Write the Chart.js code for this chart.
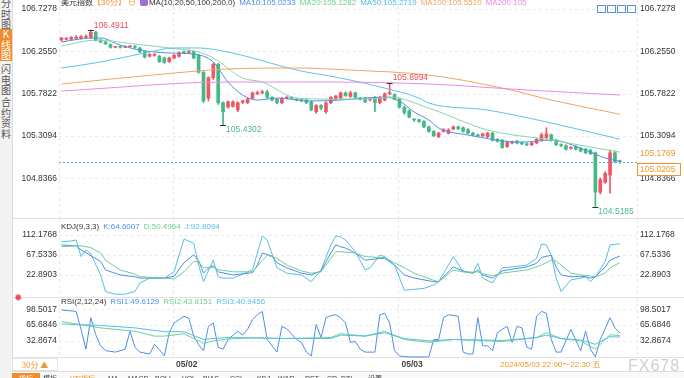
<!DOCTYPE html>
<html>
<head>
<meta charset="utf-8">
<script src="https://cdn.jsdelivr.net/npm/chart.js@4.4.1/dist/chart.umd.min.js"></script>
<style>
  html, body { margin: 0; padding: 0; width: 684px; height: 378px; overflow: hidden; background: #fff;
    font-family: "Liberation Sans", Arial, "Noto Sans CJK SC", sans-serif; }
  .wrap { position: relative; width: 684px; height: 378px; }
  canvas { position: absolute; left: 0; }
  #mainC { top: 0; } #kdjC { top: 219px; } #rsiC { top: 298px; }
  .side { position: absolute; left: 0; top: 0; width: 12px; height: 378px; background: #f3f3f3; border-right: 1px solid #dcdcdc; }
  .tab { position: absolute; left: 0; width: 12px; font: 10px/10.5px "Noto Sans CJK SC", sans-serif; text-align: center; color: #555; }
  .tab.on { background: #f28c28; color: #fff; }
  .ttl { position: absolute; left: 61px; font-size: 8px; white-space: nowrap; color: #333; line-height: 10px; }
  .ttl span { margin-right: 4px; }
  .ico { display: inline-block; width: 9px; height: 8px; border: 1px solid #5a8fe0; margin-right: 1px; box-sizing: border-box; }
  .foot { position: absolute; top: 371px; left: 12px; width: 672px; height: 10px; background: #fafafa; border-top: 1px solid #ddd; }
  .foot b { position: absolute; top: 1px; font: 7px/11px "Liberation Sans", "Noto Sans CJK SC", sans-serif; color: #444; font-weight: normal; }
</style>
</head>
<body>
<div class="wrap">
  <canvas id="mainC" width="684" height="219"></canvas>
  <canvas id="kdjC" width="684" height="79"></canvas>
  <canvas id="rsiC" width="684" height="74"></canvas>

  <div class="side"></div>
  <div class="tab" style="top:-2px">分<br>时<br>图</div>
  <div class="tab on" style="top:29px;height:32px;padding-top:0">K<br>线<br>图</div>
  <div class="tab" style="top:64px">闪<br>电<br>图</div>
  <div class="tab" style="top:97px">合<br>约<br>资<br>料</div>

  <div class="ttl" style="top:-2px">
    <span style="margin-right:0">美元指数</span><span style="color:#f0962a;margin-right:2px">【30分】</span><span style="color:#f0962a">⊖</span><span style="display:inline-block;width:8px;height:8px;background:#9d72d8;border-radius:2px;margin-right:1px;vertical-align:-1px"></span><span>MA(10,20,50,100,200,0)</span><span style="color:#4d8fe6">MA10:105.0233</span><span style="color:#6ccf92">MA20:105.1282</span><span style="color:#57bde3">MA50:105.2719</span><span style="color:#f2a461">MA100:105.5510</span><span style="color:#e88ae6">MA200:105</span>
  </div>
  <div style="position:absolute;left:597px;top:-1px;white-space:nowrap">
    <span class="ico"></span><span class="ico"></span><span class="ico"></span><span class="ico"></span>
  </div>

  <div class="ttl" style="top:222px"><span>KDJ(9,3,3)</span><span style="color:#4d8fe6">K:64.6007</span><span style="color:#6ccf92">D:50.4964</span><span style="color:#57bde3">J:92.8094</span></div>
  <div style="position:absolute;left:14px;top:292px;font-size:10px;color:#e8505b">✹</div>
  <div class="ttl" style="top:297px"><span>RSI(2,12,24)</span><span style="color:#4d8fe6">RSI1:49.6129</span><span style="color:#6ccf92">RSI2:43.8151</span><span style="color:#57bde3">RSI3:40.9456</span></div>

  <div style="position:absolute;left:12px;top:358px;width:46px;height:13px;border:1px solid #e2e2e2;box-sizing:border-box;font:8px/11px 'Noto Sans CJK SC',sans-serif;color:#f0962a;text-align:center">30分 ▲</div>
  <div style="position:absolute;left:500px;top:359px;font:8px/11px 'Liberation Sans','Noto Sans CJK SC',sans-serif;color:#f0962a;white-space:nowrap">2024/05/03 22:00～22:30 五</div>
  <div style="position:absolute;left:628px;top:357px;font-size:16px;line-height:18px;color:#d0d0d0;letter-spacing:1px">FX678</div>

  <div class="foot">
    <b style="left:0;width:28px;background:#f28c28;color:#fff;text-align:center">指标</b>
    <b style="left:31px">模板</b>
    <b style="left:58px;color:#f0962a">VTI指标</b>
    <b style="left:96px">MA</b>
    <b style="left:116px">MACD</b>
    <b style="left:143px">BOLL</b>
    <b style="left:170px">VOL</b>
    <b style="left:191px">BIAS</b>
    <b style="left:218px">CCI</b>
    <b style="left:245px">KDJ</b>
    <b style="left:266px">W&amp;R</b>
    <b style="left:293px">RST</b>
    <b style="left:315px">CR</b>
    <b style="left:329px">DTI</b>
    <b style="left:356px">设置</b>
  </div>
</div>

<script>
// 30-minute candles, 05/01 evening -> 05/03 22:00
const opens = [106.381,106.39,106.39,106.40,106.40,106.41,106.41,106.47,106.38,106.36,106.33,106.30,106.305,106.30,106.305,106.31,106.29,106.25,106.20,106.21,
  106.20,106.18,106.14,106.18,106.20,106.25,106.24,106.25,106.21,106.02,105.73,105.96,106.11,105.68,105.63,105.64,105.60,105.685,105.68,105.73,
  105.78,105.79,105.80,105.74,105.72,105.68,105.73,105.74,105.72,105.715,105.71,105.69,105.58,105.65,105.58,105.68,105.72,105.73,105.79,105.75,
  105.79,105.735,105.73,105.71,105.74,105.68,105.71,105.78,105.77,105.72,105.63,105.59,105.49,105.49,105.47,105.41,105.36,105.30,105.36,105.34,
  105.385,105.41,105.40,105.38,105.34,105.32,105.31,105.30,105.34,105.27,105.26,105.19,105.23,105.25,105.23,105.22,105.21,105.23,105.26,105.29,
  105.32,105.26,105.21,105.20,105.17,105.19,105.17,105.16,105.15,105.12,104.68,104.79,104.87,105.12,105.025];
const highs = [106.41,106.41,106.42,106.43,106.43,106.44,106.4911,106.48,106.39,106.365,106.34,106.31,106.315,106.315,106.32,106.32,106.30,106.26,106.23,106.23,
  106.21,106.19,106.19,106.22,106.25,106.26,106.27,106.26,106.22,106.03,105.97,106.12,106.12,105.69,105.70,105.70,105.69,105.71,105.73,105.80,
  105.81,105.82,105.82,105.75,105.73,105.74,105.75,105.745,105.73,105.72,105.72,105.70,105.66,105.66,105.69,105.75,105.76,105.80,105.80,105.81,
  105.80,105.74,105.74,105.73,105.75,105.75,105.79,105.8994,105.78,105.73,105.64,105.60,105.50,105.495,105.48,105.42,105.37,105.35,105.39,105.39,
  105.42,105.42,105.41,105.39,105.35,105.33,105.34,105.35,105.35,105.28,105.27,105.25,105.25,105.26,105.24,105.23,105.24,105.28,105.34,105.40,
  105.33,105.27,105.22,105.21,105.19,105.20,105.18,105.17,105.16,105.13,104.84,104.91,105.15,105.14,105.04];
const lows = [106.37,106.38,106.38,106.39,106.39,106.40,106.40,106.37,106.35,106.33,106.29,106.295,106.29,106.295,106.30,106.29,106.24,106.18,106.19,106.20,
  106.13,106.12,106.13,106.17,106.19,106.23,106.23,106.17,106.01,105.68,105.70,105.94,105.66,105.4302,105.62,105.63,105.58,105.67,105.67,105.72,
  105.77,105.78,105.73,105.70,105.67,105.67,105.72,105.72,105.70,105.69,105.67,105.59,105.56,105.60,105.56,105.67,105.71,105.72,105.75,105.74,
  105.73,105.71,105.68,105.70,105.58,105.67,105.70,105.77,105.71,105.62,105.55,105.51,105.47,105.46,105.40,105.35,105.30,105.29,105.35,105.33,
  105.38,105.38,105.35,105.33,105.31,105.30,105.30,105.29,105.25,105.24,105.17,105.18,105.22,105.22,105.21,105.20,105.20,105.22,105.25,105.28,
  105.25,105.20,105.19,105.15,105.16,105.15,105.13,105.11,105.10,104.5185,104.66,104.78,104.67,105.01,105.00];
const closes = [106.403,106.40,106.41,106.41,106.42,106.42,106.47,106.38,106.36,106.34,106.30,106.305,106.30,106.305,106.31,106.30,106.25,106.19,106.22,106.22,
  106.14,106.13,106.18,106.21,106.24,106.24,106.25,106.18,106.02,105.70,105.96,106.11,105.68,105.58,105.69,105.69,105.68,105.70,105.72,105.79,
  105.79,105.80,105.74,105.71,105.68,105.73,105.74,105.73,105.71,105.70,105.68,105.60,105.65,105.62,105.68,105.74,105.755,105.79,105.76,105.79,
  105.74,105.72,105.69,105.72,105.68,105.74,105.78,105.79,105.72,105.63,105.57,105.52,105.488,105.47,105.41,105.36,105.31,105.34,105.38,105.375,
  105.41,105.39,105.36,105.34,105.32,105.31,105.33,105.34,105.26,105.25,105.18,105.24,105.24,105.23,105.22,105.21,105.23,105.27,105.32,105.33,
  105.26,105.21,105.20,105.16,105.18,105.16,105.14,105.12,105.11,104.68,104.82,104.89,105.12,105.02,105.0205];

// moving averages, [candle index, value]
const ma10 = [[0,106.359],[6,106.403],[8,106.403],[12,106.325],[16,106.269],[22,106.236],[27,106.224],[31,106.135],[34,105.911],[37,105.766],[40,105.71],[44,105.732],[51,105.699],[57,105.71],[66,105.744],[69,105.699],[72,105.576],[75,105.487],[77,105.398],[83,105.319],[94,105.24],[100,105.263],[107,105.151],[111,105.062],[114,105.0233]];
const ma20 = [[0,106.314],[7,106.381],[15,106.336],[22,106.292],[28,106.247],[31,106.18],[37,105.956],[41,105.911],[48,105.732],[55,105.721],[63,105.721],[67,105.744],[75,105.62],[87,105.375],[100,105.263],[108,105.185],[114,105.1282]];
const ma50 = [[0,106.068],[8,106.135],[17,106.236],[23,106.292],[28,106.292],[34,106.247],[39,106.18],[48,106.045],[57,105.956],[66,105.844],[73,105.732],[75,105.676],[87,105.598],[100,105.453],[114,105.2719]];
const ma100 = [[0,105.889],[23,106.012],[34,106.057],[48,106.068],[59,106.045],[75,105.989],[90,105.844],[100,105.71],[114,105.551]];
const ma200 = [[0,105.811],[34,105.911],[55,105.911],[75,105.889],[95,105.822],[114,105.766]];

const kLine = [[0,90],[3,88],[4,79],[8,53],[9,34],[12,23],[15,19],[16,16],[21,16],[23,20],[25,50],[27,68],[28,55],[29,27],[30,38],[31,44],[32,30],[35,23],[39,28],[40,45],[41,72],[43,65],[44,50],[46,39],[49,27],[51,23],[53,32],[55,72],[56,90],[57,86],[58,83],[60,72],[62,56],[65,60],[66,60],[68,45],[70,23],[72,16],[74,12],[76,8],[77,8],[80,41],[82,32],[84,27],[85,34],[86,23],[88,16],[90,32],[92,36],[95,41],[97,49],[98,62],[100,67],[101,41],[102,23],[104,19],[106,20],[107,19],[108,16],[109,19],[111,41],[112,56],[113,61],[114,64.6007]];
const dLine = [[0,86],[3,88],[4,88],[6,84],[8,72],[9,56],[12,34],[15,25],[16,19],[21,16],[23,14],[25,30],[27,53],[28,52],[29,39],[31,40],[32,35],[35,30],[39,30],[41,55],[42,67],[44,60],[46,45],[49,32],[51,27],[53,30],[55,60],[56,75],[57,75],[60,72],[62,64],[65,62],[66,62],[68,50],[70,39],[72,27],[74,19],[76,11],[77,8],[80,34],[82,30],[84,29],[85,30],[86,26],[88,21],[90,27],[92,30],[95,34],[97,41],[98,45],[100,56],[101,54],[102,45],[104,27],[106,23],[108,21],[109,19],[111,27],[112,39],[114,50.4964]];
const jLine = [[0,97],[2,99],[3,101],[4,64],[5,79],[6,70],[8,23],[9,-14],[11,-20],[13,-20],[15,-14],[16,5],[18,16],[21,16],[23,30],[25,103],[27,94],[28,45],[29,8],[31,56],[32,19],[33,16],[35,16],[39,34],[41,110],[42,101],[44,39],[46,27],[49,23],[51,8],[53,34],[55,90],[56,110],[57,108],[58,101],[60,75],[62,34],[63,39],[65,67],[66,64],[68,45],[70,-11],[72,-9],[74,-7],[76,1],[77,8],[80,64],[82,30],[84,27],[85,49],[86,16],[88,5],[90,39],[92,41],[95,45],[97,60],[98,92],[99,90],[100,67],[101,16],[102,-14],[104,12],[106,16],[107,19],[108,8],[109,19],[111,53],[112,90],[114,92.8094]];

const rsi1 = [[0,97],[3,94],[4,57],[5,16],[6,81],[7,46],[8,23],[9,13],[11,10],[13,16],[14,53],[15,20],[16,10],[18,6],[19,26],[20,15],[21,2],[22,50],[23,70],[24,77],[25,84],[26,80],[27,43],[28,25],[29,13],[30,63],[31,70],[32,20],[33,16],[34,36],[36,53],[37,45],[38,57],[39,77],[40,87],[41,94],[42,36],[43,23],[44,10],[45,63],[46,58],[48,36],[49,30],[50,10],[51,2],[52,67],[53,40],[54,81],[55,85],[56,87],[57,81],[58,70],[59,30],[60,32],[61,16],[62,10],[64,10],[65,87],[66,90],[67,70],[68,13],[69,2],[71,0],[75,0],[76,36],[77,36],[78,81],[79,87],[81,84],[82,10],[83,6],[84,6],[85,81],[86,23],[87,23],[88,13],[89,50],[90,57],[91,63],[92,30],[93,63],[94,60],[95,20],[96,16],[97,84],[98,94],[99,90],[100,36],[101,10],[102,10],[104,57],[106,13],[107,53],[108,16],[109,0],[110,36],[112,81],[113,60],[114,49.6129]];
const rsi2 = [[0,73],[8,60],[15,53],[19,43],[21,43],[25,48],[29,28],[31,33],[34,37],[40,40],[45,38],[55,40],[57,48],[62,43],[66,53],[70,36],[75,30],[80,36],[90,32],[97,40],[99,50],[102,38],[106,33],[109,16],[112,46],[114,43.8151]];
const rsi3 = [[0,68],[8,65],[15,60],[21,52],[25,52],[29,36],[31,38],[34,40],[45,38],[55,38],[57,45],[62,43],[66,50],[70,38],[75,33],[80,36],[90,34],[97,40],[99,45],[102,38],[106,35],[109,26],[112,42],[114,40.9456]];

const priceTicks = [106.7278, 106.2550, 105.7822, 105.3094, 104.8366];
const kdjTicks = [112.1768, 67.5336, 22.8903];
const rsiTicks = [98.5017, 65.6846, 32.8674];
const dayTicks = [{ index: 23, label: '05/02' }, { index: 69, label: '05/03' }];
const extremes = [{ index: 6, value: 106.4911, kind: 'high' }, { index: 67, value: 105.8994, kind: 'high' },
  { index: 33, value: 105.4302, kind: 'low' }, { index: 109, value: 104.5185, kind: 'low' }];
const lastPrice = 105.0205;
const lastHigh = 105.1769;

const RED = '#ec5866', GREEN = '#45b883';
const C_K = '#4d8fe6', C_D = '#6ccf92', C_J = '#57bde3';
const FONT = '"Liberation Sans", Arial, sans-serif';

const pts = (list) => list.map(([i, v]) => ({ x: i, y: v }));
const line = (ctx, x1, y1, x2, y2) => { ctx.beginPath(); ctx.moveTo(x1, y1); ctx.lineTo(x2, y2); ctx.stroke(); };

const decor = {
  id: 'decor',
  beforeDatasetsDraw(chart, args, opts) {
    const { ctx, chartArea: a, scales: { x, y } } = chart;
    ctx.save();
    ctx.lineWidth = 1;
    ctx.strokeStyle = '#ececec';
    ctx.setLineDash([3, 3]);
    opts.ticks.forEach((v) => {
      const py = Math.round(y.getPixelForValue(v)) + 0.5;
      line(ctx, a.left, py, a.right, py);
    });
    ctx.strokeStyle = '#e6e6e6';
    [a.left, a.right].concat(dayTicks.map((d) => x.getPixelForValue(d.index) - 1)).forEach((px) => {
      px = Math.round(px) + 0.5;
      line(ctx, px, 0, px, a.bottom);
    });
    ctx.setLineDash([]);
    ctx.strokeStyle = '#e2e2e2';
    line(ctx, 12, chart.height - (opts.bottomPad || 0) - 0.5, 684, chart.height - (opts.bottomPad || 0) - 0.5);
    ctx.restore();
  },
  afterDraw(chart, args, opts) {
    const { ctx, chartArea: a, scales: { x, y } } = chart;
    ctx.save();
    ctx.font = '8.5px ' + FONT;
    ctx.fillStyle = '#333';
    ctx.textBaseline = 'middle';
    opts.ticks.forEach((v) => {
      const py = y.getPixelForValue(v);
      ctx.textAlign = 'right';
      ctx.fillText(v.toFixed(4), 57, py);
      ctx.textAlign = 'left';
      ctx.fillText(v.toFixed(4), 640, py);
    });
    if (opts.dates) {
      ctx.font = 'bold 8.5px ' + FONT;
      ctx.fillStyle = '#444';
      ctx.textAlign = 'left';
      dayTicks.forEach((d) => ctx.fillText(d.label, x.getPixelForValue(d.index) + 2, a.bottom + 7));
    }
    if (opts.price) {
      ctx.font = '8.5px ' + FONT;
      extremes.forEach((e) => {
        const px = x.getPixelForValue(e.index), py = y.getPixelForValue(e.value);
        ctx.strokeStyle = '#333';
        line(ctx, px - 3, Math.round(py) + 0.5, px + 3, Math.round(py) + 0.5);
        ctx.fillStyle = e.kind === 'high' ? '#e8505b' : '#4cbb84';
        ctx.textAlign = 'left';
        ctx.fillText(e.value.toFixed(4), px + 3, py + (e.kind === 'high' ? -5 : 5));
      });
      const ly = Math.round(y.getPixelForValue(lastPrice)) + 0.5;
      ctx.strokeStyle = '#5aa8e6';
      ctx.setLineDash([2, 2]);
      line(ctx, a.left, ly, a.right, ly);
      ctx.setLineDash([]);
      ctx.fillStyle = '#f0962a';
      ctx.fillText(lastHigh.toFixed(4), 640, ly - 9);
      ctx.fillStyle = '#fff';
      ctx.fillRect(637.5, ly + 1, 43, 12);
      ctx.strokeStyle = '#f0962a';
      ctx.strokeRect(637.5, ly + 1, 43, 12);
      ctx.fillStyle = '#f0962a';
      ctx.fillText(lastPrice.toFixed(4), 640, ly + 7.5);
    }
    ctx.restore();
  },
};

function lineDs(list, color, tension) {
  return { type: 'line', data: pts(list), borderColor: color, borderWidth: 1, pointRadius: 0,
    tension: tension, cubicInterpolationMode: tension ? 'monotone' : 'default', order: 0 };
}

function panel(id, datasets, yMin, yMax, padding, decorOpts) {
  return new Chart(document.getElementById(id), {
    type: 'bar',
    data: { datasets },
    options: {
      responsive: false, animation: false, devicePixelRatio: 1,
      layout: { padding },
      plugins: { legend: { display: false }, tooltip: { enabled: false }, decor: decorOpts },
      scales: {
        x: { type: 'linear', display: false, min: -0.5, max: 117.5, offset: false },
        y: { type: 'linear', display: false, min: yMin, max: yMax },
      },
    },
    plugins: [decor],
  });
}

const idx = closes.map((c, i) => i);
const candleColor = idx.map((i) => (closes[i] >= opens[i] ? RED : GREEN));

panel('mainC', [
  { type: 'bar', data: idx.map((i) => ({ x: i, y: [lows[i], highs[i]] })), backgroundColor: candleColor,
    barThickness: 1, grouped: false, order: 2 },
  { type: 'bar', data: idx.map((i) => ({ x: i, y: [opens[i], closes[i]] })), backgroundColor: candleColor,
    barThickness: 3, minBarLength: 1, grouped: false, order: 1 },
  lineDs(ma200, '#e88ae6', 0.3),
  lineDs(ma100, '#f2a461', 0.3),
  lineDs(ma50, '#62c1e6', 0.3),
  lineDs(ma20, '#86d6a6', 0.3),
  lineDs(ma10, '#4d8fe6', 0.3),
], 104.3912, 106.8284, { left: 59, right: 47, top: 0, bottom: 1 }, { ticks: priceTicks, price: true, bottomPad: 0 });

panel('kdjC', [
  lineDs(dLine, C_D, 0), lineDs(kLine, C_K, 0), lineDs(jLine, C_J, 0),
], -26.2, 123.34, { left: 59, right: 47, top: 11, bottom: 1 }, { ticks: kdjTicks, bottomPad: 0 });

panel('rsiC', [
  lineDs(rsi3, C_J, 0), lineDs(rsi2, C_D, 0), lineDs(rsi1, C_K, 0),
], -2.19, 107.21, { left: 59, right: 47, top: 7, bottom: 14 }, { ticks: rsiTicks, dates: true, bottomPad: 14 });
</script>
</body>
</html>
